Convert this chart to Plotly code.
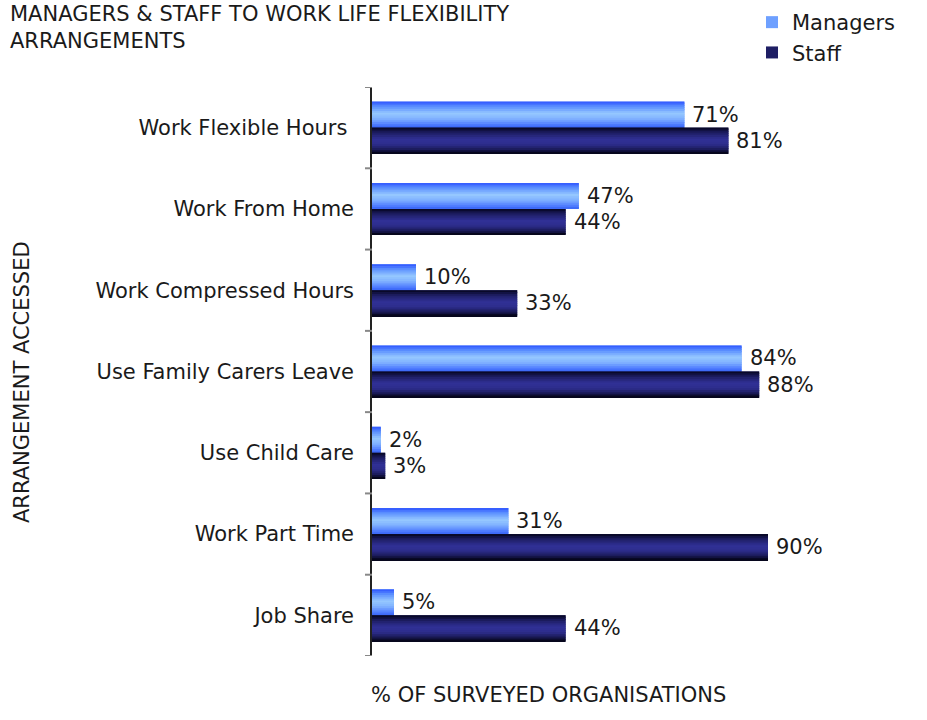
import plotly.graph_objects as go

# Survey data: share of organisations where each arrangement is accessed
categories = [
    "Work Flexible Hours\u00a0",
    "Work From Home",
    "Work Compressed Hours",
    "Use Family Carers Leave",
    "Use Child Care",
    "Work Part Time",
    "Job Share",
]
managers = [71, 47, 10, 84, 2, 31, 5]
staff = [81, 44, 33, 88, 3, 90, 44]

# Plot area in pixels
W, H = 927, 720
L, R, T, B = 372, 812, 87, 656
FS = 21
TXT = "#1a1a1a"

# Colour stops across the bar thickness (top -> bottom)
manager_stops = [(0.0, (46, 84, 255)), (0.18, (88, 140, 255)), (0.45, (150, 200, 255)),
                 (0.65, (130, 180, 255)), (0.88, (80, 125, 255)), (1.0, (55, 100, 245))]
staff_stops = [(0.0, (5, 5, 30)), (0.2, (30, 30, 100)), (0.45, (48, 48, 150)),
               (0.65, (45, 45, 140)), (0.85, (25, 25, 85)), (1.0, (0, 0, 12))]


def colour_at(stops, t):
    for (t0, c0), (t1, c1) in zip(stops, stops[1:]):
        if t0 <= t <= t1:
            f = (t - t0) / (t1 - t0) if t1 > t0 else 0
            c = [round(a + (b - a) * f) for a, b in zip(c0, c1)]
            return "rgb({},{},{})".format(*c)
    return "rgb({},{},{})".format(*stops[-1][1])


ypos = list(range(len(categories)))[::-1]  # first category at the top
BAR = 0.32
N_BANDS = 14

fig = go.Figure()


def add_series(name, values, stops, top_offset, legend_colour):
    # base bar carries the legend entry
    fig.add_trace(go.Bar(
        x=values, y=ypos, orientation="h", name=name,
        offset=top_offset - BAR, width=BAR,
        marker=dict(color=legend_colour, line=dict(width=0)),
        hoverinfo="skip",
    ))
    # thin horizontal bands give the shaded look
    band = BAR / N_BANDS
    for i in range(N_BANDS):
        t = (i + 0.5) / N_BANDS
        fig.add_trace(go.Bar(
            x=values, y=ypos, orientation="h", showlegend=False,
            offset=top_offset - (i + 1) * band, width=band * 1.02,
            marker=dict(color=colour_at(stops, t), line=dict(width=0)),
            hoverinfo="skip",
        ))


add_series("Managers", managers, manager_stops, BAR, "rgb(110,160,255)")
add_series("Staff", staff, staff_stops, 0.0, "rgb(30,30,100)")

annotations = []
for yv, m, s in zip(ypos, managers, staff):
    annotations.append(dict(x=m, y=yv + BAR / 2, xref="x", yref="y", text=f"{m}%",
                            showarrow=False, xanchor="left", xshift=6,
                            font=dict(size=FS, color=TXT)))
    annotations.append(dict(x=s, y=yv - BAR / 2, xref="x", yref="y", text=f"{s}%",
                            showarrow=False, xanchor="left", xshift=6,
                            font=dict(size=FS, color=TXT)))


def px_x(px):
    return (px - L) / (R - L)


def px_y(py):
    return (B - py) / (B - T)


annotations += [
    dict(text="MANAGERS & STAFF TO WORK LIFE FLEXIBILITY", xref="paper", yref="paper",
         x=px_x(8), y=px_y(14), xanchor="left", yanchor="middle", showarrow=False,
         font=dict(size=FS, color=TXT)),
    dict(text="ARRANGEMENTS", xref="paper", yref="paper",
         x=px_x(8), y=px_y(41), xanchor="left", yanchor="middle", showarrow=False,
         font=dict(size=FS, color=TXT)),
    dict(text="ARRANGEMENT ACCESSED", xref="paper", yref="paper", textangle=-90,
         x=px_x(22), y=px_y(382), xanchor="center", yanchor="middle", showarrow=False,
         font=dict(size=FS, color=TXT)),
    dict(text="% OF SURVEYED ORGANISATIONS", xref="paper", yref="paper",
         x=px_x(369), y=px_y(695), xanchor="left", yanchor="middle", showarrow=False,
         font=dict(size=FS, color=TXT)),
]

fig.update_layout(
    width=W, height=H,
    margin=dict(l=L, r=W - R, t=T, b=H - B, pad=0, autoexpand=False),
    barmode="overlay",
    plot_bgcolor="white", paper_bgcolor="white",
    font=dict(family="DejaVu Sans", size=FS, color=TXT),
    showlegend=True,
    legend=dict(x=px_x(752), y=px_y(2), xanchor="left", yanchor="top",
                font=dict(size=FS, color=TXT), bgcolor="rgba(0,0,0,0)",
                itemwidth=30, tracegroupgap=0),
    annotations=annotations,
    xaxis=dict(range=[0, 100], showgrid=False, zeroline=False, showline=False,
               showticklabels=False, ticks="", fixedrange=True),
    yaxis=dict(range=[-0.5, len(categories) - 0.5], tickmode="array",
               tickvals=ypos, ticktext=categories, showgrid=False, zeroline=False,
               showline=True, linecolor="#222222", linewidth=1.5,
               ticks="", ticklabelstandoff=12, fixedrange=True),
)

# tick marks at the category boundaries
for k in range(len(categories) + 1):
    fig.add_shape(type="line", xref="paper", yref="y", x0=px_x(365), x1=px_x(372),
                  y0=k - 0.5, y1=k - 0.5, line=dict(color="#888888", width=2))

fig.write_html("out.html")
